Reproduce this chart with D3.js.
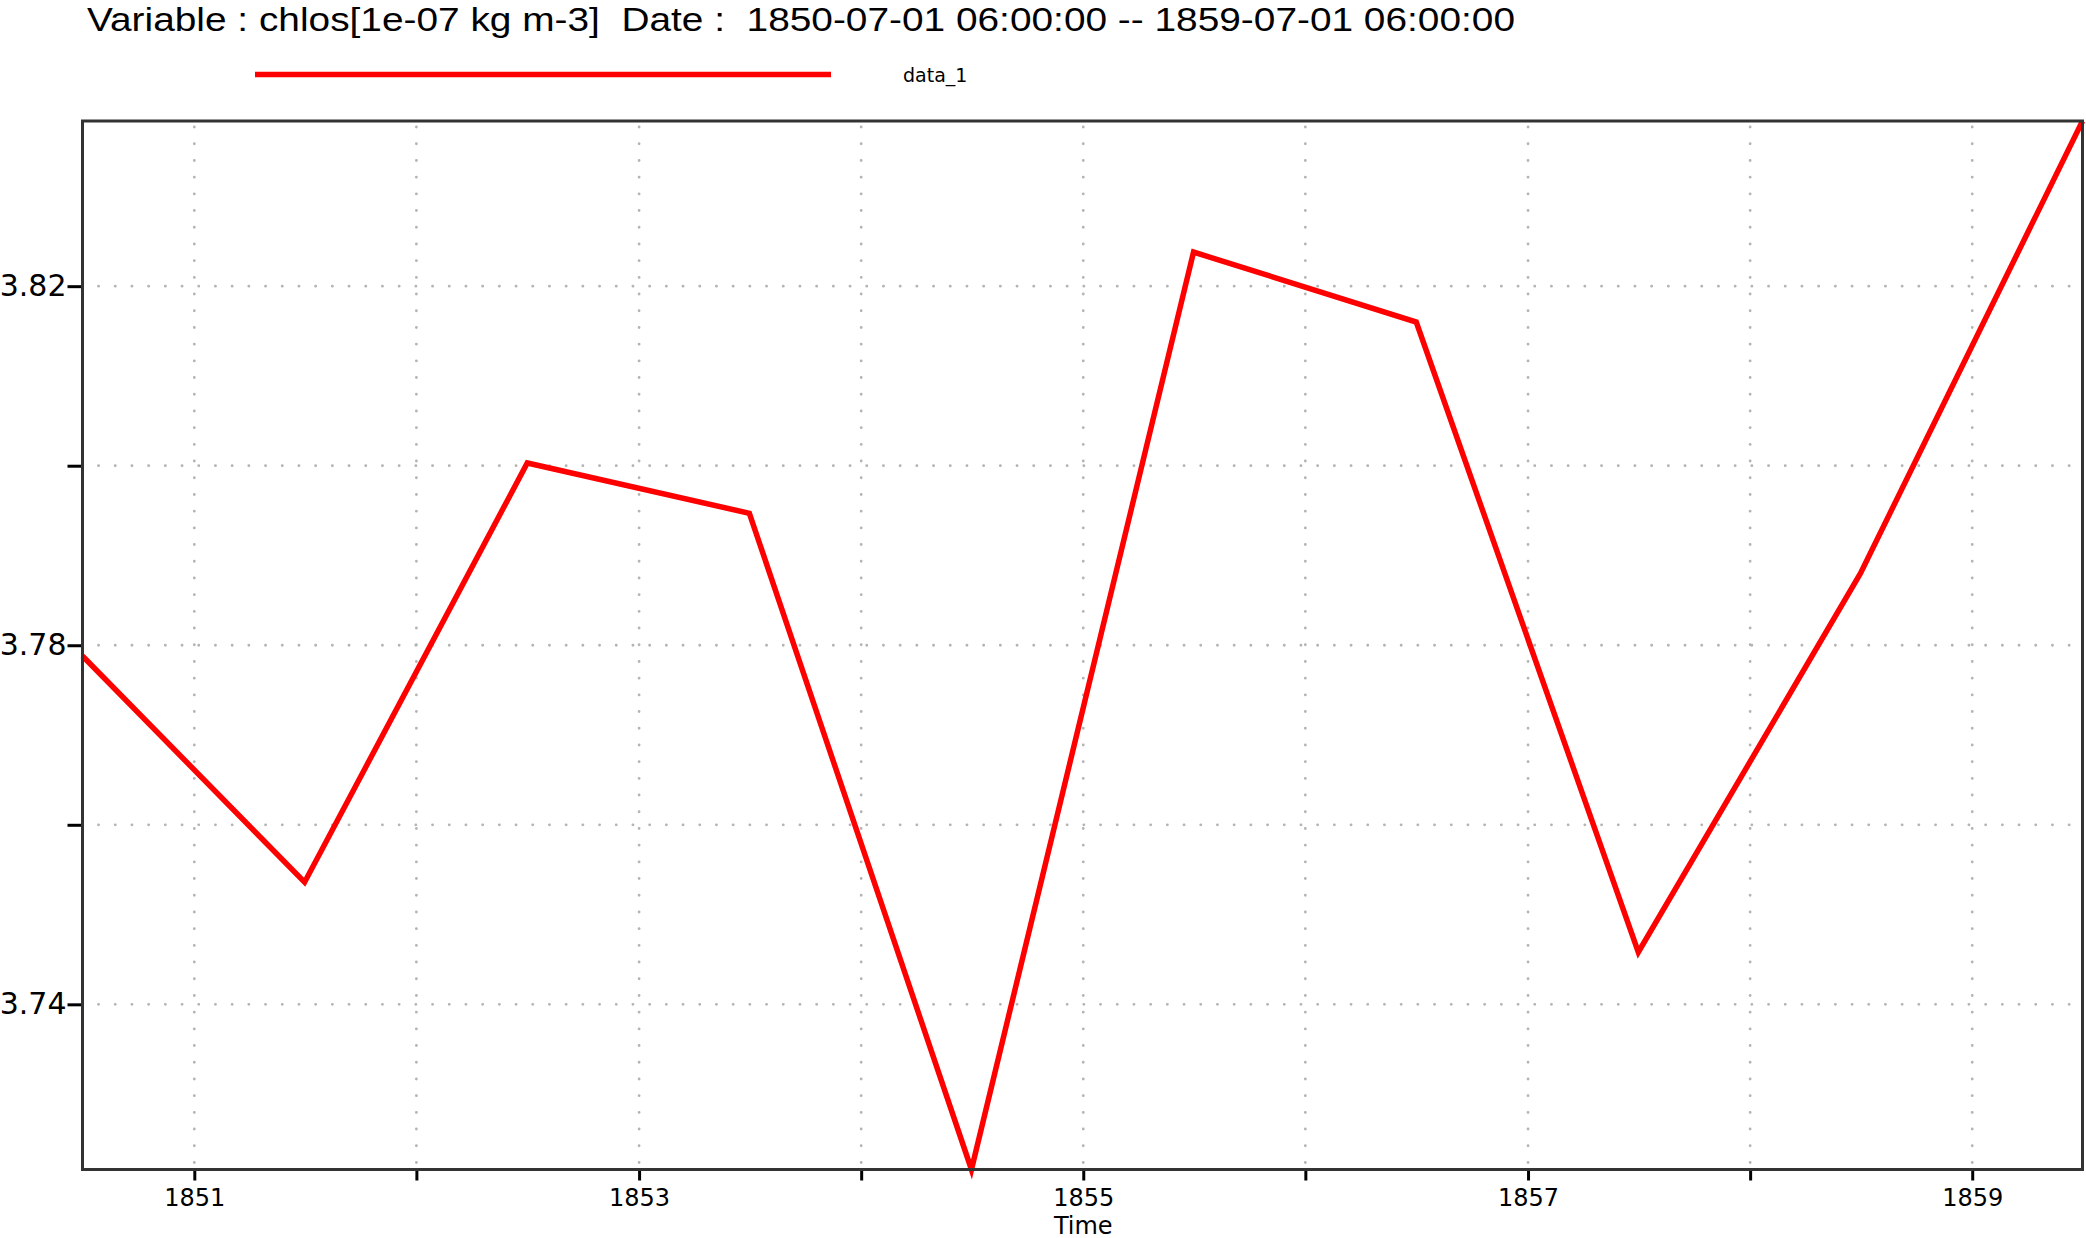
<!DOCTYPE html>
<html>
<head>
<meta charset="utf-8">
<script src="https://cdn.jsdelivr.net/npm/d3@7"></script>
<style>
  body { margin: 0; background: #fff; }
  svg { display: block; }
</style>
</head>
<body>
<div id="chart"></div>
<script>
// data
var dates = ["1850-07-01T06:00:00Z", "1851-07-01T06:00:00Z", "1852-07-01T06:00:00Z",
             "1853-07-01T06:00:00Z", "1854-07-01T06:00:00Z", "1855-07-01T06:00:00Z",
             "1856-07-01T06:00:00Z", "1857-07-01T06:00:00Z", "1858-07-01T06:00:00Z",
             "1859-07-01T06:00:00Z"];
var values = [3.7788, 3.7536, 3.8003, 3.7947, 3.7216, 3.8238, 3.8160, 3.7458, 3.7880, 3.8384];
var yTicks = [3.74, 3.76, 3.78, 3.80, 3.82];
var yLabelled = [3.74, 3.78, 3.82];
var xLabelledYears = [1851, 1853, 1855, 1857, 1859];
var seriesName = "data_1";
var titleText = "Variable : chlos[1e-07 kg m-3]  Date :  1850-07-01 06:00:00 -- 1859-07-01 06:00:00";

var W = 2086, H = 1238;
var margin = {top: 121, right: 3.5, bottom: 68.5, left: 82.5};
var width = W - margin.left - margin.right;
var height = H - margin.top - margin.bottom;

var data = dates.map(function(d, i) { return {date: new Date(d), value: values[i]}; });

var svg = d3.select("#chart").append("svg")
    .attr("width", W)
    .attr("height", H);

// title
svg.append("text")
    .attr("x", 87)
    .attr("y", 31)
    .attr("textLength", 1428)
    .attr("lengthAdjust", "spacingAndGlyphs")
    .style("font-family", "'Liberation Sans', Arial, sans-serif")
    .style("font-size", "34px")
    .style("white-space", "pre")
    .attr("xml:space", "preserve")
    .text(titleText);

// legend
svg.append("line")
    .attr("x1", 255).attr("x2", 831)
    .attr("y1", 74.5).attr("y2", 74.5)
    .attr("stroke", "#ff0000")
    .attr("stroke-width", 5.5);
svg.append("text")
    .attr("x", 903)
    .attr("y", 82)
    .style("font-family", "'DejaVu Sans', sans-serif")
    .style("font-size", "19px")
    .text(seriesName);

var g = svg.append("g")
    .attr("transform", "translate(" + margin.left + "," + margin.top + ")");

var x = d3.scaleUtc()
    .domain([data[0].date, data[data.length - 1].date])
    .range([0, width]);

var y = d3.scaleLinear()
    .domain([3.7216, 3.8384])
    .range([height, 0]);

var yearTicks = x.ticks(d3.utcYear.every(1));

// grid
g.append("g").selectAll("line")
    .data(yearTicks)
    .enter().append("line")
    .attr("x1", function(d) { return x(d); })
    .attr("x2", function(d) { return x(d); })
    .attr("y1", 6).attr("y2", height)
    .attr("stroke", "#b4b4b4")
    .attr("stroke-width", 2.8)
    .attr("stroke-linecap", "round")
    .attr("stroke-dasharray", "0.1,16.6");

g.append("g").selectAll("line")
    .data(yTicks)
    .enter().append("line")
    .attr("x1", 16).attr("x2", width)
    .attr("y1", function(d) { return y(d); })
    .attr("y2", function(d) { return y(d); })
    .attr("stroke", "#b4b4b4")
    .attr("stroke-width", 2.8)
    .attr("stroke-linecap", "round")
    .attr("stroke-dasharray", "0.1,16.6");

// axes
var xAxis = d3.axisBottom(x)
    .tickValues(yearTicks)
    .tickSize(11)
    .tickPadding(8)
    .tickFormat(function(d) {
        var yr = d.getUTCFullYear();
        return xLabelledYears.indexOf(yr) >= 0 ? yr : "";
    });

var yAxis = d3.axisLeft(y)
    .tickValues(yTicks)
    .tickSize(15)
    .tickPadding(1)
    .tickFormat(function(d) {
        return yLabelled.some(function(v) { return Math.abs(v - d) < 1e-9; }) ? d3.format(".2f")(d) : "";
    });

function customXAxis(s) {
    s.call(xAxis);
    s.select(".domain").remove();
    s.selectAll(".tick line").attr("stroke", "#000").attr("stroke-width", 3);
    s.selectAll(".tick text")
        .style("font-family", "'DejaVu Sans', sans-serif")
        .style("font-size", "24px")
        .attr("fill", "#000");
}

function customYAxis(s) {
    s.call(yAxis);
    s.select(".domain").remove();
    s.selectAll(".tick line").attr("stroke", "#000").attr("stroke-width", 3);
    s.selectAll(".tick text")
        .style("font-family", "'DejaVu Sans', sans-serif")
        .style("font-size", "30px")
        .attr("fill", "#000");
}

g.append("g")
    .attr("class", "xAxis")
    .attr("transform", "translate(0," + height + ")")
    .call(customXAxis);

g.append("g")
    .attr("class", "yAxis")
    .call(customYAxis);

// line
var line = d3.line()
    .x(function(d) { return x(d.date); })
    .y(function(d) { return y(d.value); });

g.append("path")
    .datum(data)
    .attr("fill", "none")
    .attr("stroke", "#ff0000")
    .attr("stroke-width", 5.5)
    .attr("stroke-linejoin", "miter")
    .attr("d", line);

// frame
g.append("rect")
    .attr("x", 0).attr("y", 0)
    .attr("width", width).attr("height", height)
    .attr("fill", "none")
    .attr("stroke", "#333")
    .attr("stroke-width", 3);

// x axis title
g.append("text")
    .attr("x", x(new Date(Date.UTC(1855, 0, 1))))
    .attr("y", height + 64)
    .attr("text-anchor", "middle")
    .style("font-family", "'DejaVu Sans', sans-serif")
    .style("font-size", "24px")
    .text("Time");
</script>
</body>
</html>
